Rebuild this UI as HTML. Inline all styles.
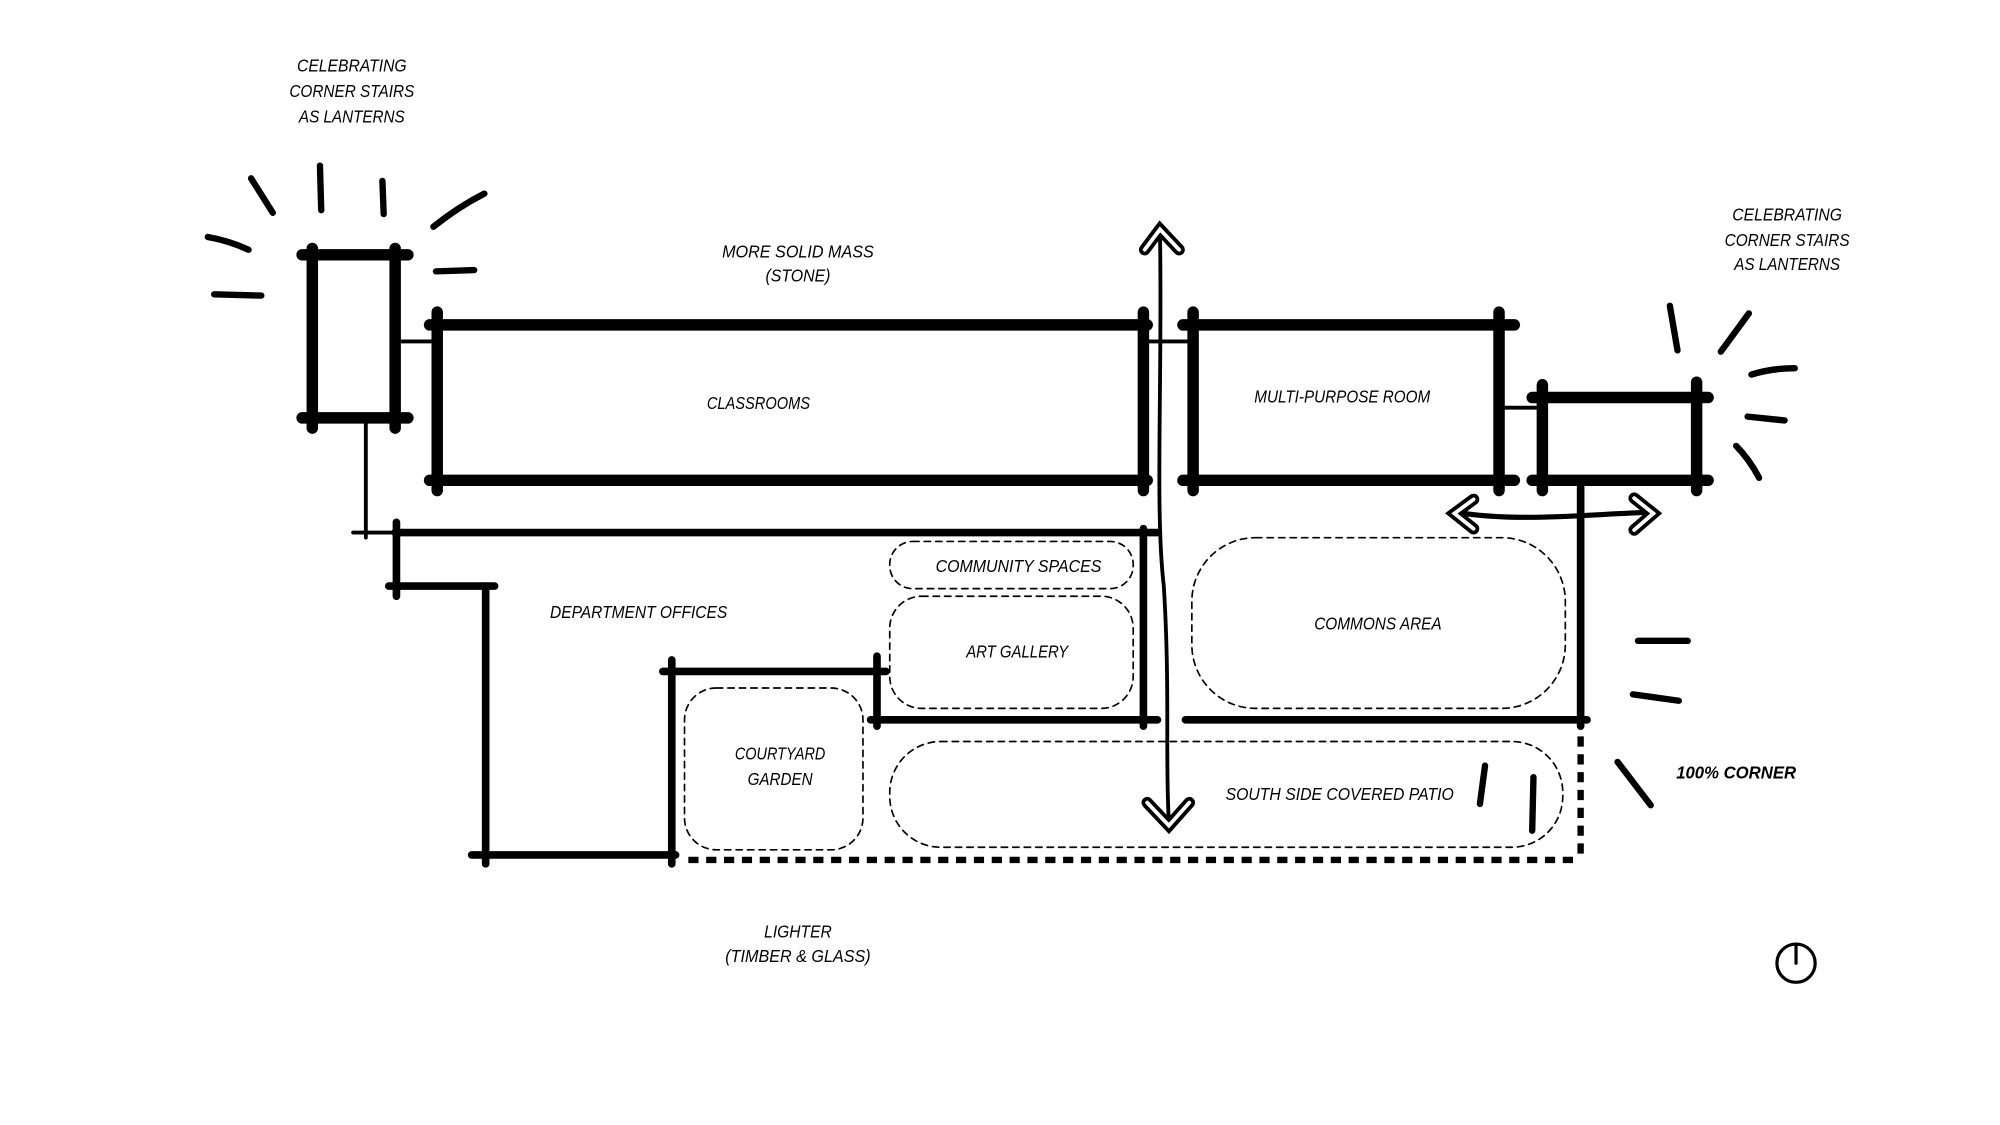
<!DOCTYPE html>
<html><head><meta charset="utf-8"><style>
html,body{margin:0;padding:0;background:#fff;width:2000px;height:1125px;overflow:hidden}
svg{display:block}
text{font-family:"Liberation Sans",sans-serif;font-style:italic;font-size:14px;fill:#000;text-anchor:middle}
</style></head><body>
<svg width="2000" height="1125" viewBox="0 0 1569 883" preserveAspectRatio="none">
<rect width="1569" height="883" fill="#fff"/>
<g stroke="#000" stroke-linecap="round" fill="none">
<g stroke-width="9">
<line x1="237" y1="200" x2="320" y2="200"/><line x1="237" y1="328" x2="320" y2="328"/>
<line x1="245" y1="195" x2="245" y2="336"/><line x1="310" y1="195" x2="310" y2="336"/>
<line x1="337" y1="255" x2="900" y2="255"/><line x1="337" y1="377" x2="900" y2="377"/>
<line x1="343" y1="245" x2="343" y2="385"/><line x1="897" y1="245" x2="897" y2="385"/>
<line x1="928" y1="255" x2="1188" y2="255"/><line x1="928" y1="377" x2="1188" y2="377"/>
<line x1="936" y1="245" x2="936" y2="385"/><line x1="1176" y1="245" x2="1176" y2="385"/>
<line x1="1202" y1="312" x2="1340" y2="312"/><line x1="1202" y1="377" x2="1340" y2="377"/>
<line x1="1210" y1="302" x2="1210" y2="385"/><line x1="1331" y1="300" x2="1331" y2="385"/>
</g>
<g stroke-width="3">
<line x1="310" y1="268" x2="343" y2="268"/><line x1="897" y1="268" x2="936" y2="268"/>
<line x1="1176" y1="320" x2="1210" y2="320"/>
<line x1="287" y1="328" x2="287" y2="422"/><line x1="277" y1="418" x2="310" y2="418"/>
</g>
<g stroke-width="6">
<line x1="310" y1="418" x2="908" y2="418"/>
<line x1="311" y1="410" x2="311" y2="468"/>
<line x1="305" y1="460" x2="388" y2="460"/>
<line x1="381" y1="460" x2="381" y2="678"/>
<line x1="370" y1="671" x2="530" y2="671"/>
<line x1="527" y1="518" x2="527" y2="678"/>
<line x1="520" y1="527" x2="695" y2="527"/>
<line x1="688" y1="515" x2="688" y2="570"/>
<line x1="683" y1="565" x2="908" y2="565"/>
<line x1="897" y1="415" x2="897" y2="570"/>
<line x1="930" y1="565" x2="1245" y2="565"/>
<line x1="1240" y1="382" x2="1240" y2="570"/>
</g>
<g stroke-width="5" stroke-dasharray="8 6" stroke-linecap="butt">
<line x1="1240" y1="578" x2="1240" y2="675"/>
<line x1="540" y1="675" x2="1240" y2="675"/>
</g>
<g stroke-width="1.3" stroke-dasharray="5 4">
<rect x="698" y="425" width="191" height="37" rx="18"/>
<rect x="698" y="468" width="191" height="88" rx="25"/>
<rect x="935" y="422" width="293" height="134" rx="50"/>
<rect x="537" y="540" width="140" height="127" rx="25"/>
<rect x="698" y="582" width="528" height="83" rx="40"/>
</g>
<path d="M910 182 C912 300,906 400,913 460 C918 540,914 600,917 645" stroke-width="3"/>
<path d="M898 196 L910 180 L925 196" stroke-width="9"/>
<path d="M898 196 L910 180 L925 196" stroke-width="3" stroke="#fff"/>
<path d="M900 630 L917 648 L933 630" stroke-width="9"/>
<path d="M900 630 L917 648 L933 630" stroke-width="3" stroke="#fff"/>
<path d="M1142 402 C1190 410,1240 404,1295 402" stroke-width="4"/>
<path d="M1156 392 L1141 403 L1156 415" stroke-width="9"/>
<path d="M1156 392 L1141 403 L1156 415" stroke-width="3" stroke="#fff"/>
<path d="M1282 391 L1297 403 L1282 416" stroke-width="9"/>
<path d="M1282 391 L1297 403 L1282 416" stroke-width="3" stroke="#fff"/>
<g stroke-width="5">
<line x1="197" y1="140" x2="214" y2="167"/><line x1="251" y1="130" x2="252" y2="165"/>
<line x1="300" y1="142" x2="301" y2="168"/><path d="M340 178 Q360 162 380 152"/>
<path d="M163 186 Q180 189 195 196"/><line x1="168" y1="231" x2="205" y2="232"/>
<line x1="342" y1="213" x2="372" y2="212"/>
<line x1="1310" y1="240" x2="1316" y2="275"/><line x1="1372" y1="246" x2="1350" y2="276"/>
<path d="M1374 294 Q1390 289 1408 289"/><line x1="1371" y1="327" x2="1400" y2="330"/>
<path d="M1362 350 Q1372 360 1380 375"/>
<line x1="1285" y1="503" x2="1324" y2="503"/><line x1="1281" y1="545" x2="1317" y2="550"/>
<line x1="1269" y1="598" x2="1295" y2="632"/><line x1="1165" y1="601" x2="1161" y2="631"/>
<line x1="1203" y1="610" x2="1202" y2="652"/>
</g>
<circle cx="1409" cy="756" r="15" stroke-width="2.5"/>
<line x1="1409" y1="741" x2="1409" y2="756" stroke-width="2.5"/>
</g>
<g>
<text x="276" y="56" textLength="86" lengthAdjust="spacingAndGlyphs">CELEBRATING</text>
<text x="276" y="76" textLength="98" lengthAdjust="spacingAndGlyphs">CORNER STAIRS</text>
<text x="276" y="96" textLength="83" lengthAdjust="spacingAndGlyphs">AS LANTERNS</text>
<text x="1402" y="173" textLength="86" lengthAdjust="spacingAndGlyphs">CELEBRATING</text>
<text x="1402" y="193" textLength="98" lengthAdjust="spacingAndGlyphs">CORNER STAIRS</text>
<text x="1402" y="212" textLength="83" lengthAdjust="spacingAndGlyphs">AS LANTERNS</text>
<text x="626" y="202" textLength="119" lengthAdjust="spacingAndGlyphs">MORE SOLID MASS</text>
<text x="626" y="221" textLength="51" lengthAdjust="spacingAndGlyphs">(STONE)</text>
<text x="595" y="321" textLength="81" lengthAdjust="spacingAndGlyphs">CLASSROOMS</text>
<text x="1053" y="316" textLength="138" lengthAdjust="spacingAndGlyphs">MULTI-PURPOSE ROOM</text>
<text x="799" y="449" textLength="130" lengthAdjust="spacingAndGlyphs">COMMUNITY SPACES</text>
<text x="501" y="485" textLength="139" lengthAdjust="spacingAndGlyphs">DEPARTMENT OFFICES</text>
<text x="798" y="516" textLength="80" lengthAdjust="spacingAndGlyphs">ART GALLERY</text>
<text x="1081" y="494" textLength="100" lengthAdjust="spacingAndGlyphs">COMMONS AREA</text>
<text x="612" y="596" textLength="71" lengthAdjust="spacingAndGlyphs">COURTYARD</text>
<text x="612" y="616" textLength="51" lengthAdjust="spacingAndGlyphs">GARDEN</text>
<text x="1051" y="628" textLength="179" lengthAdjust="spacingAndGlyphs">SOUTH SIDE COVERED PATIO</text>
<text x="1362" y="611" textLength="94" lengthAdjust="spacingAndGlyphs" font-weight="bold">100% CORNER</text>
<text x="626" y="736" textLength="53" lengthAdjust="spacingAndGlyphs">LIGHTER</text>
<text x="626" y="755" textLength="114" lengthAdjust="spacingAndGlyphs">(TIMBER &amp; GLASS)</text>
</g>
</svg>
</body></html>
